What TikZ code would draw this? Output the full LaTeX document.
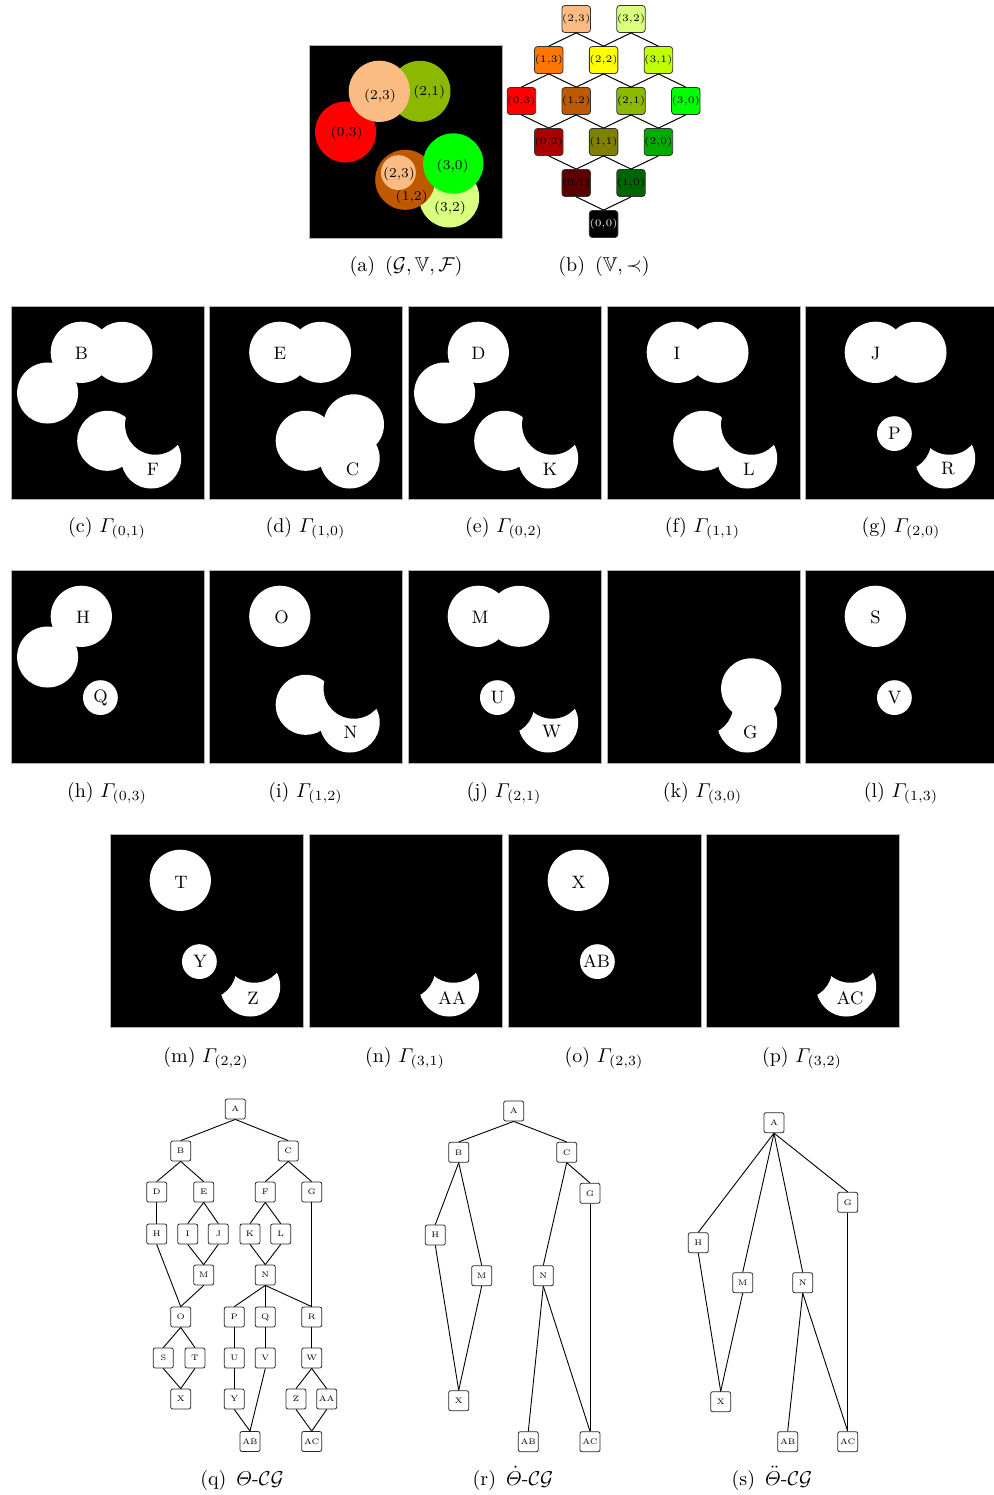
\documentclass[tikz,border=0pt]{standalone}
\usepackage{amsmath,amssymb}
\usepackage{fontspec}

% lattice colours
\definecolor{v00}{RGB}{0,0,0}
\definecolor{v01}{RGB}{90,0,0}
\definecolor{v02}{RGB}{170,0,0}
\definecolor{v03}{RGB}{255,0,0}
\definecolor{v10}{RGB}{0,100,0}
\definecolor{v11}{RGB}{128,128,0}
\definecolor{v12}{RGB}{191,89,0}
\definecolor{v13}{RGB}{255,119,0}
\definecolor{v20}{RGB}{0,170,0}
\definecolor{v21}{RGB}{140,185,0}
\definecolor{v22}{RGB}{255,255,0}
\definecolor{v23}{RGB}{250,188,130}
\definecolor{v30}{RGB}{0,255,0}
\definecolor{v31}{RGB}{191,255,0}
\definecolor{v32}{RGB}{218,255,128}

% one 193x193 image, circles painted bottom to top
\newcommand{\blobs}[7]{%
  \fill[black] (0,0) rectangle (193,193);
  \fill[#1] (36.6,87) circle[radius=15.25pt];
  \fill[#2] (111,46.3) circle[radius=15.25pt];
  \fill[#3] (70.3,46.3) circle[radius=15.3pt];
  \fill[#4] (140.2,152.5) circle[radius=15pt];
  \fill[#5] (96.2,134.8) circle[radius=15pt];
  \fill[#6] (89.4,127.6) circle[radius=8.7pt];
  \fill[#7] (144.3,118.5) circle[radius=15.1pt];
  \draw[gray!60, line width=0.5pt] (0,0) rectangle (193,193);
}

\begin{document}
\begin{tikzpicture}[x=0.5pt, y=-0.5pt,
    latt/.style={draw=black!80, rounded corners=1.5pt, minimum size=13.5pt, inner sep=0pt, font=\fontsize{5}{5}\selectfont},
    ledge/.style={line width=0.5pt},
    lbl/.style={inner sep=0pt, font=\fontsize{9}{10}\selectfont},
    albl/.style={inner sep=0pt, font=\fontsize{6.8}{7}\selectfont},
    subcap/.style={anchor=base, inner sep=0pt, font=\fontsize{10}{12}\selectfont},
    tnode/.style={draw=black!85, fill=white, rounded corners=1pt, minimum size=10pt, inner sep=0pt, font=\fontsize{4}{4}\selectfont},
    tedge/.style={line width=0.45pt}
]
    \path[use as bounding box, fill=white] (0,0) rectangle (994,1495);

    % (a) the coloured image
    \begin{scope}[shift={(309,45)}]
        \blobs{v03}{v21}{v23}{v32}{v12}{v23}{v30}
        \node[albl] (a03) at (37.7,88.3) {(0,3)};
        \node[albl] (a23) at (71,51) {(2,3)};
        \node[albl] (a21) at (120.3,46.7) {(2,1)};
        \node[albl] (a30) at (143.7,120.7) {(3,0)};
        \node[albl] (a23s) at (90,129) {(2,3)};
        \node[albl] (a12) at (102.7,151.7) {(1,2)};
        \node[albl] (a32) at (141,163.3) {(3,2)};
    \end{scope}
    \node[subcap] (capa) at (406,271.7) {(a)\ \,$(\mathcal{G}, \mathbb{V}, \mathcal{F})$};

    % (b) the lattice
    \foreach \i/\j in {0/1,0/2,0/3,1/0,1/1,1/2,1/3,2/0,2/1,2/2,2/3,3/0,3/1,3/2}
        \node[latt, fill=v\i\j] (l\i\j) at ({603.6+27.4*(\i-\j)}, {224-41*(\i+\j)}) {(\i,\j)};
    \node[latt, fill=v00, text=white] (l00) at (603.6,224) {(0,0)};
    \foreach \a/\b in {23/13,23/22,32/22,32/31,13/03,13/12,22/12,22/21,31/21,31/30,
                       03/02,12/02,12/11,21/11,21/20,30/20,02/01,11/01,11/10,20/10,01/00,10/00}
        \draw[ledge] (l\a.south) -- (l\b.north);
    \node[subcap] (capb) at (604,271.7) {(b)\ \,$(\mathbb{V}, \prec)$};

    % row of Gamma images 1
    \begin{scope}[shift={(11,306)}]
        \blobs{white}{white}{white}{white}{white}{white}{black}
        \node[lbl] (pB) at (70.5,47.5) {B};
        \node[lbl] (pF) at (142,163) {F};
    \end{scope}
    \begin{scope}[shift={(209.5,306)}]
        \blobs{black}{white}{white}{white}{white}{white}{white}
        \node[lbl] (pE) at (70.5,47.5) {E};
        \node[lbl] (pC) at (143,163) {C};
    \end{scope}
    \begin{scope}[shift={(408,306)}]
        \blobs{white}{black}{white}{white}{white}{white}{black}
        \node[lbl] (pD) at (70.5,47.5) {D};
        \node[lbl] (pK) at (142,163) {K};
    \end{scope}
    \begin{scope}[shift={(607,306)}]
        \blobs{black}{white}{white}{white}{white}{white}{black}
        \node[lbl] (pI) at (70,47.5) {I};
        \node[lbl] (pL) at (142,163) {L};
    \end{scope}
    \begin{scope}[shift={(805,306)}]
        \blobs{black}{white}{white}{white}{black}{white}{black}
        \node[lbl] (pJ) at (70.5,47.5) {J};
        \node[lbl] (pP) at (89.3,127.5) {P};
        \node[lbl] (pR) at (143,163) {R};
    \end{scope}
    \node[subcap] (capc) at (107,532) {(c)\ $\varGamma_{(0,1)}$};
    \node[subcap] (capd) at (305.5,532) {(d)\ $\varGamma_{(1,0)}$};
    \node[subcap] (cape) at (504,532) {(e)\ $\varGamma_{(0,2)}$};
    \node[subcap] (capf) at (702.5,532) {(f)\ $\varGamma_{(1,1)}$};
    \node[subcap] (capg) at (901,532) {(g)\ $\varGamma_{(2,0)}$};

    % row of Gamma images 2
    \begin{scope}[shift={(11,570)}]
        \blobs{white}{black}{white}{black}{black}{white}{black}
        \node[lbl] (pH) at (72,47) {H};
        \node[lbl] (pQ) at (89.5,127.5) {Q};
    \end{scope}
    \begin{scope}[shift={(209.5,570)}]
        \blobs{black}{black}{white}{white}{white}{white}{black}
        \node[lbl] (pO) at (72,47) {O};
        \node[lbl] (pN) at (141,162) {N};
    \end{scope}
    \begin{scope}[shift={(408,570)}]
        \blobs{black}{white}{white}{white}{black}{white}{black}
        \node[lbl] (pM) at (72,47) {M};
        \node[lbl] (pU) at (89.5,127.5) {U};
        \node[lbl] (pW) at (143.5,162) {W};
    \end{scope}
    \begin{scope}[shift={(607,570)}]
        \blobs{black}{black}{black}{white}{black}{black}{white}
        \node[lbl] (pG) at (143.5,162) {G};
    \end{scope}
    \begin{scope}[shift={(805,570)}]
        \blobs{black}{black}{white}{black}{black}{white}{black}
        \node[lbl] (pS) at (70.5,47) {S};
        \node[lbl] (pV) at (89.5,127.5) {V};
    \end{scope}
    \node[subcap] (caph) at (107,797) {(h)\ $\varGamma_{(0,3)}$};
    \node[subcap] (capi) at (305.5,797) {(i)\ $\varGamma_{(1,2)}$};
    \node[subcap] (capj) at (504,797) {(j)\ $\varGamma_{(2,1)}$};
    \node[subcap] (capk) at (702.5,797) {(k)\ $\varGamma_{(3,0)}$};
    \node[subcap] (capl) at (901,797) {(l)\ $\varGamma_{(1,3)}$};

    % row of Gamma images 3
    \begin{scope}[shift={(110,834)}]
        \blobs{black}{black}{white}{white}{black}{white}{black}
        \node[lbl] (pT) at (71,48) {T};
        \node[lbl] (pY) at (90,127.5) {Y};
        \node[lbl] (pZ) at (143,164) {Z};
    \end{scope}
    \begin{scope}[shift={(309,834)}]
        \blobs{black}{black}{black}{white}{black}{black}{black}
        \node[lbl] (pAA) at (143,164) {AA};
    \end{scope}
    \begin{scope}[shift={(508,834)}]
        \blobs{black}{black}{white}{black}{black}{white}{black}
        \node[lbl] (pX) at (70.5,48) {X};
        \node[lbl] (pAB) at (88.5,127.5) {AB};
    \end{scope}
    \begin{scope}[shift={(706,834)}]
        \blobs{black}{black}{black}{white}{black}{black}{black}
        \node[lbl] (pAC) at (144,164) {AC};
    \end{scope}
    \node[subcap] (capm) at (206,1062) {(m)\ $\varGamma_{(2,2)}$};
    \node[subcap] (capn) at (405,1062) {(n)\ $\varGamma_{(3,1)}$};
    \node[subcap] (capo) at (604,1062) {(o)\ $\varGamma_{(2,3)}$};
    \node[subcap] (capp) at (802,1062) {(p)\ $\varGamma_{(3,2)}$};

    % (q) full component graph
    \foreach \n/\x/\y in {A/235.3/1109, B/180.7/1151, C/288.3/1151,
            D/156.7/1192, E/203.7/1192, F/265.3/1192, G/311.7/1192,
            H/156.7/1234, I/187.7/1234, J/218.3/1234, K/250/1234, L/280.7/1234,
            M/203.7/1275, N/265.3/1275,
            O/180.7/1317, P/234.3/1317, Q/265.3/1317, R/311.7/1317,
            S/163.3/1358, T/195/1358, U/234.3/1358, V/265.3/1358, W/311.7/1358,
            X/180.7/1399, Y/234.3/1399, Z/296/1399, AA/326.7/1399,
            AB/250/1441.5, AC/311.7/1441.5}
        \node[tnode] (q\n) at (\x,\y) {\n};
    \foreach \u/\v in {A/B, A/C, B/D, B/E, C/F, C/G, D/H, E/I, E/J, F/K, F/L, G/R,
            H/O, I/M, J/M, K/N, L/N, M/O, N/P, N/Q, N/R, O/S, O/T, P/U, Q/V, R/W,
            S/X, T/X, U/Y, V/AB, Y/AB, W/Z, W/AA, Z/AC, AA/AC}
        \draw[tedge] (q\u.south) -- (q\v.north);
    \node[subcap] (capq) at (242,1485) {(q)\ \,$\varTheta$-$\mathcal{C}\mathcal{G}$};

    % (r) reduced graph
    \foreach \n/\x/\y in {A/513.7/1111, B/458.7/1152.3, C/566.7/1152.3, G/590/1193.3,
            H/435.3/1235, M/481.7/1275.7, N/543.3/1275.7,
            X/458.7/1400.7, AB/528.3/1441.7, AC/590/1441.7}
        \node[tnode] (r\n) at (\x,\y) {\n};
    \foreach \u/\v in {A/B, A/C, B/H, B/M, C/N, C/G, H/X, M/X, N/AB, N/AC, G/AC}
        \draw[tedge] (r\u.south) -- (r\v.north);
    \node[subcap] (capr) at (513,1485) {(r)\ \,$\dot{\varTheta}$-$\mathcal{C}\mathcal{G}$};

    % (s) further reduced graph
    \foreach \n/\x/\y in {A/774/1122.7, G/847.7/1202.3, H/698.3/1242.7,
            M/742.7/1282.7, N/802.7/1282.7,
            X/720.7/1401.7, AB/787.7/1441.7, AC/847.7/1441.7}
        \node[tnode] (s\n) at (\x,\y) {\n};
    \foreach \u/\v in {A/H, A/M, A/N, A/G, H/X, M/X, N/AB, N/AC, G/AC}
        \draw[tedge] (s\u.south) -- (s\v.north);
    \node[subcap] (caps) at (772,1485) {(s)\ \,$\ddot{\varTheta}$-$\mathcal{C}\mathcal{G}$};
\end{tikzpicture}
\end{document}
